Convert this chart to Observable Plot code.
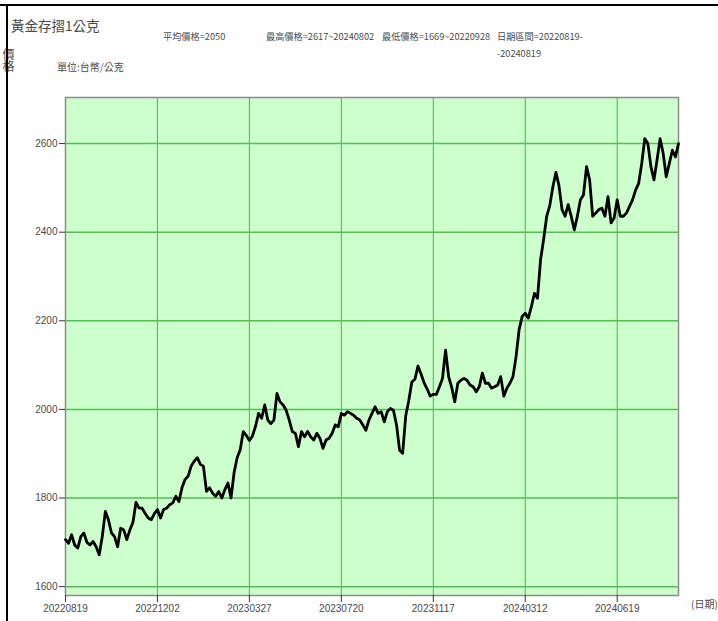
<!DOCTYPE html>
<html>
<head>
<meta charset="utf-8">
<script src="https://cdn.jsdelivr.net/npm/d3@7"></script>
<script src="https://cdn.jsdelivr.net/npm/@observablehq/plot@0.6"></script>
<style>
  html, body { margin: 0; padding: 0; background: #fff; }
  #page { position: relative; width: 718px; height: 621px; overflow: hidden; background: #fff;
          font-family: "Noto Sans CJK TC", "Noto Sans CJK SC", sans-serif; color: #4a4a4a; }
  .t { position: absolute; white-space: nowrap; line-height: 1; }
  #chart { position: absolute; left: 0; top: 80px; }
  .bd { position: absolute; background: #000; z-index: 5; }
</style>
</head>
<body>
<div id="page">
  <div class="t" style="left:11px;top:19px;font-size:13.5px;">黃金存摺1公克</div>
  <div class="t" style="left:163px;top:32px;font-size:9.2px;">平均價格=2050</div>
  <div class="t" style="left:266px;top:32px;font-size:9.2px;">最高價格=2617~20240802</div>
  <div class="t" style="left:382px;top:32px;font-size:9.2px;">最低價格=1669~20220928</div>
  <div class="t" style="left:497px;top:32px;font-size:9.2px;">日期區間=20220819-</div>
  <div class="t" style="left:497px;top:49px;font-size:9.2px;">-20240819</div>
  <div class="t" style="left:57px;top:62px;font-size:10px;">單位:台幣/公克</div>
  <div class="t" style="left:2px;top:48px;font-size:12px;writing-mode:vertical-rl;">價格</div>
  <div id="chart"></div>
  <div class="t" style="left:691px;top:599px;font-size:10px;z-index:6;">(日期)</div>
  <div class="bd" style="left:0;top:4px;width:718px;height:2px;"></div>
  <div class="bd" style="left:6px;top:4px;width:2px;height:617px;"></div>
</div>
<script>
// x tick positions (sample index) and their date labels
const xTickIdx = [0, 30, 60, 90, 120, 150, 180];
const xTickLabels = ["20220819", "20221202", "20230327", "20230720", "20231117", "20240312", "20240619"];
// y ticks
const yTicks = [1600, 1800, 2000, 2200, 2400, 2600];
// price series (TWD / gram), sampled evenly across the chart from 20220819 to 20240819
const prices = [
  1706, 1698, 1717, 1694, 1687, 1713, 1721, 1700, 1694, 1702,
  1690, 1672, 1713, 1770, 1751, 1721, 1713, 1690, 1732, 1728,
  1706, 1728, 1745, 1790, 1777, 1777, 1765, 1755, 1751, 1765,
  1774, 1755, 1774, 1777, 1785, 1789, 1804, 1792, 1823, 1842,
  1849, 1872, 1883, 1891, 1876, 1872, 1815, 1823, 1811, 1804,
  1815, 1800, 1819, 1834, 1800, 1857, 1891, 1909, 1950, 1941,
  1930, 1940, 1962, 1991, 1980, 2010, 1976, 1968, 1976, 2036,
  2017, 2010, 1998, 1976, 1950, 1946, 1916, 1950, 1938, 1950,
  1938, 1931, 1946, 1935, 1912, 1931, 1935, 1946, 1965, 1961,
  1991, 1987, 1995, 1991, 1987, 1980, 1976, 1965, 1953, 1976,
  1991, 2006, 1991, 1995, 1972, 1995, 2002, 1998, 1965, 1908,
  1901, 1985, 2020, 2062, 2068, 2098, 2080, 2060, 2046, 2030,
  2034, 2034, 2051, 2070, 2134, 2074, 2050, 2017, 2059, 2066,
  2070, 2066, 2055, 2051, 2040, 2051, 2082, 2059, 2059, 2048,
  2051, 2055, 2074, 2030, 2048, 2059, 2074, 2119, 2180, 2210,
  2217, 2206, 2232, 2262, 2251, 2338, 2384, 2436, 2460, 2502,
  2535, 2505, 2451, 2436, 2462, 2436, 2405, 2436, 2473, 2484,
  2548, 2518, 2436, 2443, 2451, 2454, 2436, 2480, 2421, 2432,
  2473, 2436, 2436, 2443, 2458, 2473, 2495, 2510, 2555, 2611,
  2600, 2548, 2518, 2563, 2611, 2578, 2525, 2555, 2585, 2570,
  2600
];

const data = prices.map((v, i) => ({i, v}));

const chart = Plot.plot({
  width: 718,
  height: 541,
  marginTop: 17,
  marginBottom: 26,
  marginLeft: 65,
  marginRight: 40,
  style: {background: "transparent", fontFamily: "'Liberation Sans', sans-serif", fontSize: "10px", color: "#4a4a4a"},
  x: {domain: [0, 200]},
  y: {domain: [1580, 2704]},
  marks: [
    Plot.frame({fill: "#ccffcc"}),
    Plot.gridY(yTicks, {stroke: "#55bd55", strokeOpacity: 1, strokeWidth: 1.5}),
    Plot.gridX(xTickIdx.slice(1), {stroke: "#55bd55", strokeOpacity: 1, strokeWidth: 1.1}),
    Plot.frame({stroke: "#8c8c8c", strokeWidth: 1.5}),
    Plot.axisY(yTicks, {tickSize: 6, tickPadding: 2, stroke: "#333", label: null, tickFormat: d => String(d)}),
    Plot.axisX(xTickIdx, {tickSize: 7, tickPadding: 2, stroke: "#333", label: null,
      tickFormat: d => xTickLabels[xTickIdx.indexOf(d)]}),
    Plot.line(data, {x: "i", y: "v", stroke: "black", strokeWidth: 2.8, strokeLinejoin: "round"})
  ]
});
document.getElementById("chart").appendChild(chart);
</script>
</body>
</html>
